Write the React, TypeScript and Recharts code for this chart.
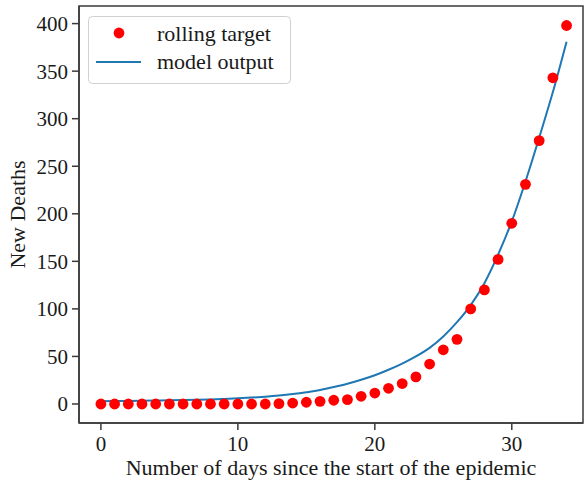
import React from 'react';
import { ComposedChart, Line, Scatter, XAxis, YAxis, ReferenceArea } from 'recharts';

// Days since the start, rolling target (dots) and model output (line)
const days = [
    0, 1, 2, 3, 4, 5, 6, 7, 8, 9, 10, 11, 12, 13, 14, 15, 16,
    17, 18, 19, 20, 21, 22, 23, 24, 25, 26, 27, 28, 29, 30, 31, 32, 33, 34,
];
const rollingTarget = [
    0, 0, 0, 0, 0, 0, 0, 0, 0, 0, 0, 0, 0, 0.4, 1, 1.8, 2.8,
    3.9, 4.6, 8.1, 11.5, 16.5, 21.5, 28.5, 42, 57, 68, 100, 120, 152, 190, 231, 277, 343, 398,
];
const modelOutput = [
    3.0, 3.1, 3.2, 3.4, 3.6, 3.8, 4.1, 4.4, 4.8, 5.3, 5.9, 6.7, 7.7, 8.9, 10.4, 12.3, 14.6,
    17.8, 21.3, 25.4, 30.2, 36, 42.5, 50, 59, 71, 86, 104, 127, 157, 192, 234, 280, 328, 381,
];
const xTicks = [0, 10, 20, 30];
const yTicks = [0, 50, 100, 150, 200, 250, 300, 350, 400];

const data = days.map((d, i) => ({ day: d, target: rollingTarget[i], model: modelOutput[i] }));

const X_DOMAIN = [-1.6, 35.2];
const Y_DOMAIN = [-20, 418.5];

const FONT = '"Liberation Serif", "Times New Roman", serif';
const AXIS_COLOR = '#3a3a3a';
const DOT_COLOR = '#ff0000';
const LINE_COLOR = '#1f77b4';

const tickStyle = { fontSize: 21, fill: '#1a1a1a', fontFamily: FONT };

// Axis titles drawn relative to the axis box
const XTitle = ({ viewBox }: any) => (
    <text
        x={viewBox.x + viewBox.width / 2}
        y={viewBox.y + 52}
        textAnchor="middle"
        fontSize={22}
        fontFamily={FONT}
        fill="#1a1a1a"
    >
        Number of days since the start of the epidemic
    </text>
);

const YTitle = ({ viewBox }: any) => {
    const x = viewBox.x + 25;
    const y = viewBox.y + viewBox.height / 2;
    return (
        <text
            x={x}
            y={y}
            transform={`rotate(-90 ${x} ${y})`}
            textAnchor="middle"
            fontSize={22}
            fontFamily={FONT}
            fill="#1a1a1a"
        >
            New Deaths
        </text>
    );
};

// matplotlib-style legend box, laid over the chart
const LegendBox = () => (
    <svg width={203} height={68} style={{ position: 'absolute', left: 88, top: 16 }}>
        <rect x={0.5} y={0.5} width={202} height={67} rx={4} fill="#ffffff" fillOpacity={0.85} stroke="#d0d0d0" />
        <circle cx={31} cy={17} r={5.4} fill={DOT_COLOR} />
        <text x={69} y={17} dominantBaseline="central" fontSize={22} fontFamily={FONT} fill="#1a1a1a">
            rolling target
        </text>
        <line x1={8} x2={53} y1={46} y2={46} stroke={LINE_COLOR} strokeWidth={2} />
        <text x={69} y={45} dominantBaseline="central" fontSize={22} fontFamily={FONT} fill="#1a1a1a">
            model output
        </text>
    </svg>
);

const Dot = (props: any) => <circle cx={props.cx} cy={props.cy} r={5.4} fill={DOT_COLOR} />;

export default function App() {
    return (
        <div style={{ position: 'absolute', left: 0, top: 0, width: 588, height: 486, background: '#fff', fontFamily: FONT }}>
            <ComposedChart width={588} height={486} data={data} margin={{ top: 6, right: 5, bottom: 0, left: 0 }}>
                <XAxis
                    dataKey="day"
                    type="number"
                    domain={X_DOMAIN}
                    allowDataOverflow
                    ticks={xTicks}
                    height={63}
                    tickSize={7}
                    tickMargin={6}
                    stroke={AXIS_COLOR}
                    strokeWidth={1.5}
                    tick={tickStyle}
                    label={<XTitle />}
                />
                <YAxis
                    type="number"
                    domain={Y_DOMAIN}
                    allowDataOverflow
                    ticks={yTicks}
                    width={79}
                    tickSize={7}
                    tickMargin={4}
                    stroke={AXIS_COLOR}
                    strokeWidth={1.5}
                    tick={tickStyle}
                    label={<YTitle />}
                />
                {/* frame around the plot area (top and right spines) */}
                <ReferenceArea
                    x1={X_DOMAIN[0]}
                    x2={X_DOMAIN[1]}
                    y1={Y_DOMAIN[0]}
                    y2={Y_DOMAIN[1]}
                    fill="none"
                    stroke={AXIS_COLOR}
                    strokeWidth={1.5}
                    ifOverflow="visible"
                />
                <Scatter
                    dataKey="target"
                    name="rolling target"
                    fill={DOT_COLOR}
                    shape={<Dot />}
                    isAnimationActive={false}
                />
                <Line
                    dataKey="model"
                    name="model output"
                    type="monotone"
                    stroke={LINE_COLOR}
                    strokeWidth={2}
                    dot={false}
                    activeDot={false}
                    isAnimationActive={false}
                />
            </ComposedChart>
            <LegendBox />
        </div>
    );
}
